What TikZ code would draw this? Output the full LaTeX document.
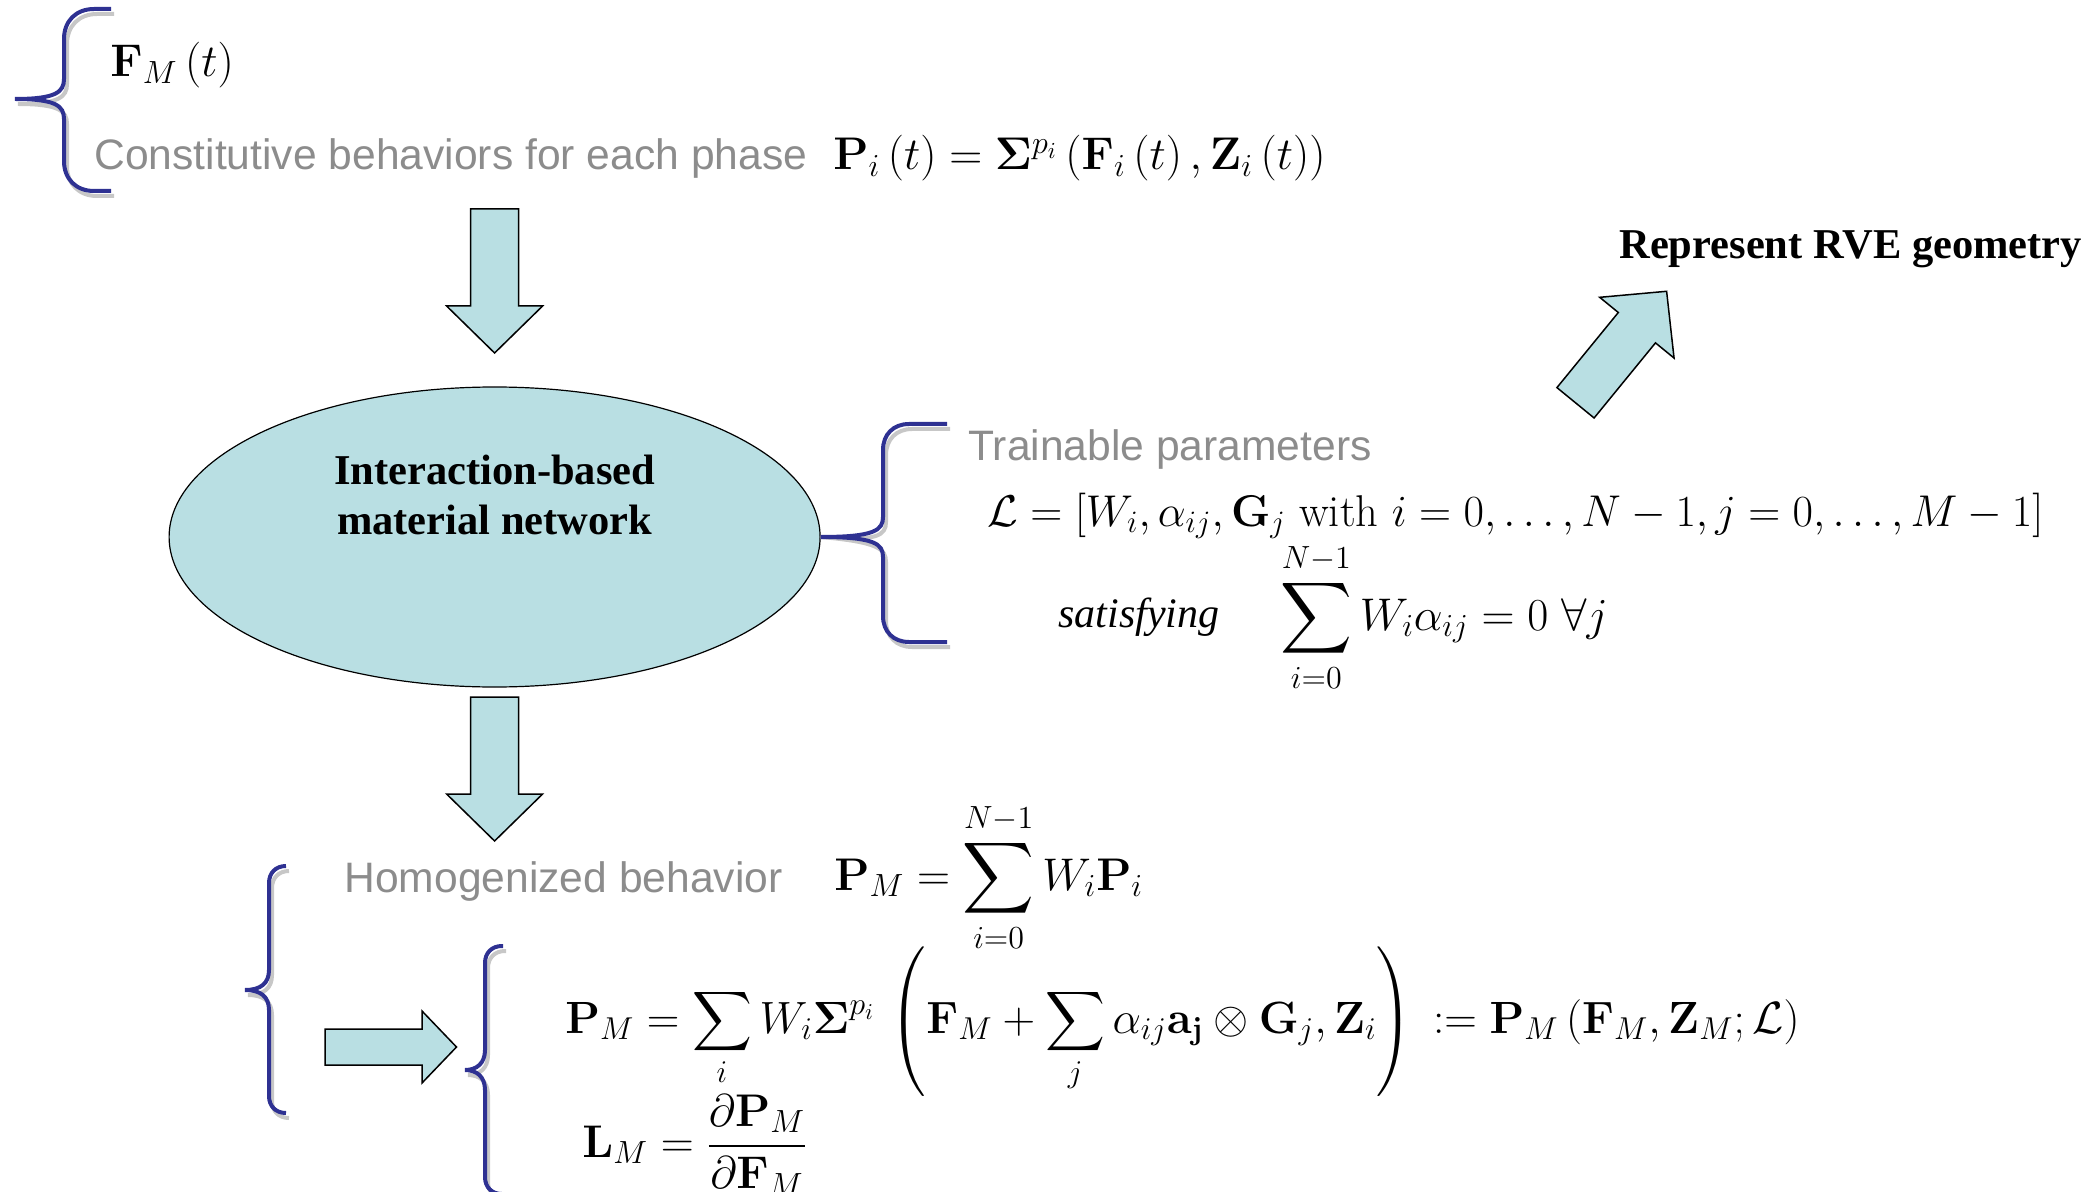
\documentclass[tikz,border=0pt]{standalone}
\usepackage{fix-cm}
\usepackage{amsmath}
\usepackage[no-math]{fontspec}
\newfontfamily\arialfont{Liberation Sans}
\newfontfamily\timesfont{Liberation Serif}
\usetikzlibrary{shapes.geometric}

\definecolor{arrowcyan}{RGB}{185,223,227}
\definecolor{braceblue}{RGB}{46,49,146}
\definecolor{textgrey}{RGB}{140,140,140}

% curly brace: #1 x of the vertical stroke, #2 top, #3 bottom,
% #4 tip point, #5 y of the tip, #6 x where the hooks end, #7 hook radius
\newcommand{\curlybrace}[7]{%
  \foreach \sty/\dx/\dy in {braceshadow/3/5, bracestyle/0/0}{%
  \draw[\sty, shift={(\dx,\dy)}] (#6,#2) -- ({#1+#7},#2)
    .. controls ({#1+0.4*#7},#2) and (#1,{#2+0.4*#7}) .. (#1,{#2+#7})
    -- (#1,{#5-20}) .. controls (#1,{#5-7}) and ({#1-8},#5) .. (#4)
    .. controls ({#1-8},#5) and (#1,{#5+7}) .. (#1,{#5+20})
    -- (#1,{#3-#7}) .. controls (#1,{#3-0.4*#7}) and ({#1+0.4*#7},#3) .. ({#1+#7},#3)
    -- (#6,#3);}%
}

\tikzset{
  blockarrow/.style={fill=arrowcyan, draw=black, line width=0.75pt, line join=miter},
  bracestyle/.style={draw=braceblue, line width=2pt},
  braceshadow/.style={draw=black!22, line width=2pt},
  greytext/.style={font=\arialfont\fontsize{21.3}{25}\selectfont, text=textgrey, inner sep=0pt, anchor=base west},
  boldtext/.style={font=\timesfont\fontsize{21.25}{25}\selectfont\bfseries, inner sep=0pt},
  mathtext/.style={font=\fontsize{22.9}{27}\selectfont, inner sep=0pt, anchor=base west},
}

\begin{document}
\begin{tikzpicture}[x=0.5pt, y=-0.5pt]
\useasboundingbox (0,0) rectangle (2098,1192);
\clip (0,0) rectangle (2098,1192);

% ---- inputs -------------------------------------------------------
\node[mathtext] (fm) at (110,77) {$\mathbf{F}_M\left(t\right)$};
\node[greytext] (const) at (94,170) {Constitutive behaviors for each phase};
\node[mathtext] (pi) at (833,170)
  {$\mathbf{P}_i\left(t\right)=\mathbf{\Sigma}^{p_i}\left(\mathbf{F}_i\left(t\right),\mathbf{Z}_i\left(t\right)\right)$};
\curlybrace{64}{9}{191}{15,99}{99}{111}{30}

% ---- arrow into the network ---------------------------------------
\begin{scope}[shift={(494.6,209)}, rotate=-90]
  \draw[blockarrow] (0,-24) -- (97,-24) -- (97,-48) -- (144,0) -- (97,48) -- (97,24) -- (0,24) -- cycle;
\end{scope}

% ---- network ------------------------------------------------------
\node[ellipse, draw=black, line width=0.6pt, fill=arrowcyan, minimum width=325.5pt,
      minimum height=150pt, inner sep=0pt] (net) at (494.6,537) {};
\node[boldtext, align=center] (nettext) at (494.6,495)
  {Interaction-based\\material network};

% ---- RVE geometry -------------------------------------------------
\begin{scope}[shift={(1575.5,402.8)}, rotate=50.75]
  \draw[blockarrow] (0,-24) -- (97,-24) -- (97,-48) -- (144,0) -- (97,48) -- (97,24) -- (0,24) -- cycle;
\end{scope}
\node[boldtext, anchor=base west] (rve) at (1619,259) {Represent RVE geometry};

% ---- trainable parameters ----------------------------------------
\curlybrace{883}{424}{642}{net.east}{537}{947}{26}
\node[greytext] (train) at (968,460) {Trainable parameters};
\node[mathtext, font=\fontsize{22.25}{27}\selectfont] (params) at (987,526)
  {$\mathcal{L}=\left[W_i,\alpha_{ij},\mathbf{G}_j\text{ with }i=0,\ldots,N-1,j=0,\ldots,M-1\right]$};
\node[inner sep=0pt, anchor=base west, font=\timesfont\fontsize{21}{25}\selectfont\itshape] (sat) at (1058,627) {satisfying};
\node[mathtext] (constraint) at (1280,630)
  {$\displaystyle\sum_{i=0}^{N-1}W_i\alpha_{ij}=0\;\forall j$};

% ---- arrow out of the network -------------------------------------
\begin{scope}[shift={(494.6,697)}, rotate=-90]
  \draw[blockarrow] (0,-24) -- (97,-24) -- (97,-48) -- (144,0) -- (97,48) -- (97,24) -- (0,24) -- cycle;
\end{scope}

% ---- homogenized behaviour ---------------------------------------
\curlybrace{269}{866}{1113}{245,990}{990}{286}{17}
\node[greytext] (homog) at (344,892) {Homogenized behavior};
\node[mathtext] (pm) at (834,890) {$\displaystyle\mathbf{P}_M=\sum_{i=0}^{N-1}W_i\mathbf{P}_i$};

\begin{scope}[shift={(325,1047)}]
  \draw[blockarrow] (0,-18) -- (97,-18) -- (97,-36) -- (131.5,0) -- (97,36) -- (97,18) -- (0,18) -- cycle;
\end{scope}

\curlybrace{485}{946}{1194}{465,1070}{1070}{503}{17}
\node[mathtext, font=\fontsize{22.6}{27}\selectfont] (pmfull) at (565,1033)
  {$\displaystyle\mathbf{P}_M=\sum_i W_i\mathbf{\Sigma}^{p_i}\,\left(\mathbf{F}_M+\sum_j\alpha_{ij}\mathbf{a}_{\mathbf{j}}\otimes\mathbf{G}_j,\mathbf{Z}_i\right)\,:=\mathbf{P}_M\left(\mathbf{F}_M,\mathbf{Z}_M;\mathcal{L}\right)$};
\node[mathtext] (lm) at (582,1157)
  {$\displaystyle\mathbf{L}_M=\frac{\partial\mathbf{P}_M}{\partial\mathbf{F}_M}$};
\end{tikzpicture}
\end{document}
